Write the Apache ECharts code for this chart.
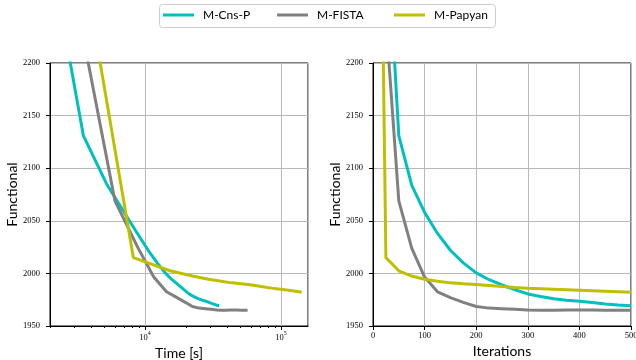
<!DOCTYPE html>
<html>
<head>
<meta charset="utf-8">
<script src="https://cdn.jsdelivr.net/npm/echarts@6/dist/echarts.min.js"></script>
<style>
  html, body { margin: 0; padding: 0; background: #fff; }
  #chart { width: 636px; height: 360px; }
</style>
</head>
<body>
<div id="chart"></div>
<script>
// Iteration counter shared by all three methods
const iterations = [0, 25, 50, 75, 100, 125, 150, 175, 200, 225, 250, 275, 300, 325, 350, 375, 400, 425, 450, 475, 500];

// Functional value per iteration (null = not recorded)
const cnsPValues   = [null, 2347, 2131, 2084, 2058, 2038, 2022, 2010, 2000.5, 1994, 1989, 1984.5, 1980.5, 1978, 1976, 1974.5, 1973.5, 1972.3, 1971, 1970, 1969.3];
const fistaValues  = [null, 2241, 2069, 2024, 1996.5, 1982.5, 1977, 1972.5, 1968.5, 1967, 1966.5, 1966, 1965.3, 1965, 1965, 1965.3, 1965.3, 1965.2, 1965, 1965, 1965];
const papyanValues = [2950, 2015, 2002.5, 1997.5, 1994.5, 1992.5, 1991, 1990.2, 1989.5, 1988.5, 1987.5, 1986.7, 1986, 1985.5, 1985, 1984.5, 1984, 1983.5, 1983, 1982.5, 1982];

// Wall-clock time [s] at each iteration
const cnsPTimes   = [null, 1760, 3520, 5270, 7030, 8790, 10550, 12300, 14060, 15820, 17580, 19330, 21090, 22850, 24610, 26360, 28120, 29880, 31640, 33390, 35150];
const fistaTimes  = [null, 3320, 6010, 8900, 11600, 14400, 17200, 19800, 22300, 25000, 27800, 30700, 33900, 36500, 39300, 42000, 44800, 47600, 50700, 53800, 56900];
const papyanTimes = [480, 8210, 15270, 22300, 29350, 36400, 43450, 50500, 57550, 64600, 71650, 78700, 85750, 92800, 99850, 106900, 113950, 121000, 128050, 135100, 142150];

// Axis settings
const yTicks = [1950, 2000, 2050, 2100, 2150, 2200];
const iterTicks = [0, 100, 200, 300, 400, 500];
const timeMajorTicks = [10000, 100000];
const timeMinorTicks = [2000, 3000, 4000, 5000, 6000, 7000, 8000, 9000,
                        20000, 30000, 40000, 50000, 60000, 70000, 80000, 90000];
const timeRange = [2000, 158250];

const methods = [
  { name: 'M-Cns-P',  color: '#00bfbf', values: cnsPValues,   times: cnsPTimes },
  { name: 'M-FISTA',  color: '#808080', values: fistaValues,  times: fistaTimes },
  { name: 'M-Papyan', color: '#bfbf00', values: papyanValues, times: papyanTimes }
];

function pairs(xs, ys) {
  const out = [];
  for (let i = 0; i < ys.length; i++) {
    if (xs[i] != null && ys[i] != null) out.push([xs[i], ys[i]]);
  }
  return out;
}

const SERIF = 'Liberation Serif';
const SANS = 'Lato';
const tickFont = { fontFamily: SERIF, fontSize: 8.5, color: '#000' };

function yAxisFor(gridIndex) {
  return {
    type: 'value', gridIndex,
    min: yTicks[0], max: yTicks[yTicks.length - 1], interval: 50,
    name: 'Functional', nameLocation: 'middle', nameGap: 29,
    nameTextStyle: { fontFamily: SANS, fontSize: 14, color: '#000' },
    axisLine: { show: true, lineStyle: { color: '#000', width: 1 } },
    axisTick: { show: true, inside: false, length: 4, lineStyle: { color: '#000', width: 1 } },
    axisLabel: Object.assign({ margin: 10, formatter: v => String(v) }, tickFont),
    splitLine: { show: true, lineStyle: { color: '#b8b8b8', width: 1 } }
  };
}

const chart = echarts.init(document.getElementById('chart'), null, { renderer: 'canvas' });

const series = [];
methods.forEach(m => {
  series.push({
    name: m.name, type: 'line', xAxisIndex: 0, yAxisIndex: 0,
    data: pairs(m.times, m.values),
    showSymbol: false, symbol: 'none', clip: true,
    lineStyle: { color: m.color, width: 3 }, itemStyle: { color: m.color },
    z: 3
  });
  series.push({
    name: m.name, type: 'line', xAxisIndex: 1, yAxisIndex: 1,
    data: pairs(iterations, m.values),
    showSymbol: false, symbol: 'none', clip: true,
    lineStyle: { color: m.color, width: 3 }, itemStyle: { color: m.color },
    z: 3
  });
});

// Tick marks of the logarithmic time axis (major and minor)
const tickData = timeMajorTicks.map(v => [v, yTicks[0], 4]).concat(timeMinorTicks.map(v => [v, yTicks[0], 2]));
series.push({
  type: 'custom', xAxisIndex: 0, yAxisIndex: 0, silent: true, clip: false,
  data: tickData,
  renderItem: (params, api) => {
    const p = api.coord([api.value(0), api.value(1)]);
    const x = Math.round(p[0]) + 0.5;
    return {
      type: 'line',
      shape: { x1: x, y1: p[1], x2: x, y2: p[1] + api.value(2) },
      style: { stroke: '#000', lineWidth: 1 }
    };
  },
  z: 5
});

const legendBase = {
  orient: 'horizontal', top: 8, itemWidth: 31, itemHeight: 3, icon: 'rect',
  padding: 0, selectedMode: false, z: 10,
  textStyle: { fontFamily: SANS, fontSize: 12, color: '#000', lineHeight: 14, padding: [0, 0, 0, 4] }
};

chart.setOption({
  animation: false,
  backgroundColor: '#fff',
  graphic: [{
    type: 'rect', left: 159, top: 4, z: 0,
    shape: { width: 336, height: 23, r: 3 },
    style: { fill: '#fff', stroke: '#cccccc', lineWidth: 1 }
  }],
  legend: [
    Object.assign({}, legendBase, { left: 163, data: [methods[0].name] }),
    Object.assign({}, legendBase, { left: 277, data: [methods[1].name] }),
    Object.assign({}, legendBase, { left: 394, data: [methods[2].name] })
  ],
  grid: [
    { left: 50, top: 63, width: 258, height: 263, show: true, borderColor: '#000', borderWidth: 1, backgroundColor: 'transparent', outerBoundsMode: 'none', containLabel: false },
    { left: 373, top: 63, width: 258, height: 263, show: true, borderColor: '#000', borderWidth: 1, backgroundColor: 'transparent', outerBoundsMode: 'none', containLabel: false }
  ],
  xAxis: [
    {
      type: 'log', logBase: 10, gridIndex: 0,
      min: timeRange[0], max: timeRange[1],
      name: 'Time [s]', nameLocation: 'middle', nameGap: 15,
      nameTextStyle: { fontFamily: SANS, fontSize: 14, color: '#000' },
      axisLine: { show: true, lineStyle: { color: '#000', width: 1 } },
      axisTick: { show: false },
      axisLabel: {
        margin: 4,
        formatter: v => {
          const e = Math.round(Math.log10(v));
          return Math.abs(Math.log10(v) - e) < 1e-6 ? '{b|10}{s|' + e + '}' : '';
        },
        rich: {
          b: { fontFamily: SERIF, fontSize: 8.5, color: '#000', lineHeight: 12, verticalAlign: 'bottom' },
          s: { fontFamily: SERIF, fontSize: 6, color: '#000', lineHeight: 7, verticalAlign: 'top' }
        }
      },
      splitLine: { show: true, lineStyle: { color: '#b8b8b8', width: 1 } }
    },
    {
      type: 'value', gridIndex: 1,
      min: iterTicks[0], max: iterTicks[iterTicks.length - 1], interval: 100,
      name: 'Iterations', nameLocation: 'middle', nameGap: 15,
      nameTextStyle: { fontFamily: SANS, fontSize: 14, color: '#000' },
      axisLine: { show: true, lineStyle: { color: '#000', width: 1 } },
      axisTick: { show: true, inside: false, length: 4, lineStyle: { color: '#000', width: 1 } },
      axisLabel: Object.assign({ margin: 5, formatter: v => String(v) }, tickFont),
      splitLine: { show: true, lineStyle: { color: '#b8b8b8', width: 1 } }
    }
  ],
  yAxis: [yAxisFor(0), yAxisFor(1)],
  series
});
</script>
</body>
</html>
